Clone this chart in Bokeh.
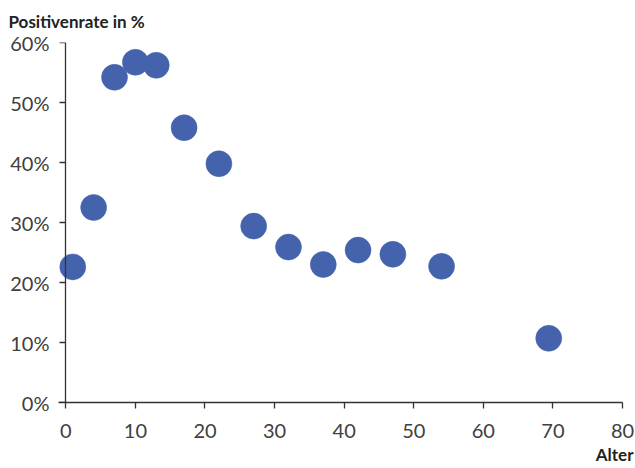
from bokeh.plotting import figure
from bokeh.models import Range1d, FixedTicker, LinearAxis, Title
from bokeh.embed import file_html
from bokeh.resources import INLINE

# Data (age in years, positive rate in %)
ages = [1, 4, 7, 10, 13, 17, 22, 27, 32, 37, 42, 47, 54, 69.4]
rates = [22.6, 32.5, 54.2, 56.7, 56.2, 45.8, 39.8, 29.4, 25.9, 23.0, 25.4, 24.7, 22.7, 10.7]

x_ticks = [0, 10, 20, 30, 40, 50, 60, 70, 80]
y_ticks = [0, 10, 20, 30, 40, 50, 60]
y_tick_labels = ["0%", "10%", "20%", "30%", "40%", "50%", "60%"]

y_title = "Positivenrate in %"
x_title = "Alter"

W, H = 635, 468
L, R, T, B = 58, 13, 42, 66

p = figure(width=W, height=H, x_range=Range1d(-1.05, 80), y_range=Range1d(0, 60),
           output_backend="svg", toolbar_location=None,
           min_border_left=L, min_border_right=R, min_border_top=T, min_border_bottom=B)
p.outline_line_color = None
p.xgrid.visible = False
p.ygrid.visible = False
p.background_fill_color = "white"
p.border_fill_color = "white"

p.scatter(ages, rates, size=26, marker="circle", fill_color="#4563ad",
          line_color="#4563ad", line_width=0.5)

axis_color = "#333333"
label_color = "#404040"


def style(ax):
    ax.axis_line_color = axis_color
    ax.axis_line_width = 1.3
    ax.major_tick_line_color = axis_color
    ax.major_tick_line_width = 1.3
    ax.major_tick_out = 6
    ax.major_tick_in = 0
    ax.minor_tick_line_color = None
    ax.major_label_text_font = "Lato"
    ax.major_label_text_font_size = "20px"
    ax.major_label_text_color = label_color
    ax.major_label_standoff = 10


# x axis
xa = p.xaxis[0]
style(xa)
xa.ticker = FixedTicker(ticks=x_ticks)
xa.major_label_standoff = 15

# y axis at the frame edge: labels only
ya = p.yaxis[0]
style(ya)
ya.ticker = FixedTicker(ticks=y_ticks)
ya.major_label_overrides = {t: s for t, s in zip(y_ticks, y_tick_labels)}
ya.axis_line_color = None
ya.major_tick_line_color = None
ya.major_tick_out = 0
ya.major_label_standoff = 9

# y axis line and ticks at x = 0
ya2 = LinearAxis(ticker=FixedTicker(ticks=y_ticks), fixed_location=0)
style(ya2)
ya2.major_label_text_color = None
ya2.major_label_text_font_size = "0px"
p.add_layout(ya2, "left")

# titles
p.title.text = y_title
p.title.align = "left"
p.title.offset = -(L - 8)
p.title.text_font = "Lato"
p.title.text_font_style = "bold"
p.title.text_font_size = "17px"
p.title.text_color = "#222222"
p.title.vertical_align = "top"
p.title.standoff = 18

alter = Title(text=x_title, align="right", offset=-11, text_font="Lato",
              text_font_style="bold", text_font_size="17px", text_color="#222222",
              standoff=3)
p.add_layout(alter, "below")

open("out.html", "w").write(file_html(p, INLINE))
